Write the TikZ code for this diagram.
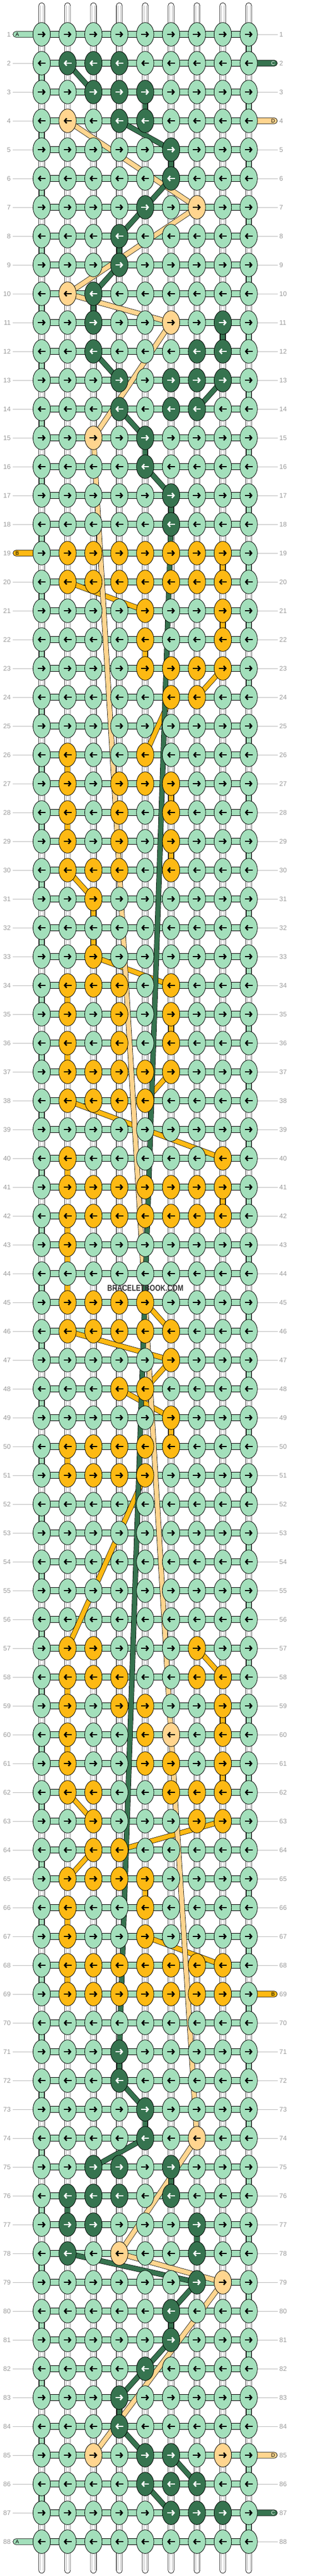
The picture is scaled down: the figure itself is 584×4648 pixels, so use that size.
\documentclass[tikz,border=0pt]{standalone}
\usepackage{fontspec}
\usepackage{graphicx}
\setmainfont{Liberation Sans}
\usetikzlibrary{shapes.geometric,arrows.meta}
\definecolor{cA}{HTML}{A3DFBB}
\definecolor{cB}{HTML}{FDB913}
\definecolor{cC}{HTML}{36734F}
\definecolor{cD}{HTML}{FFD58F}
\definecolor{numgray}{HTML}{999999}
\definecolor{linegray}{HTML}{BBBBBB}
\definecolor{wmark}{HTML}{333333}
\pgfdeclarelayer{back}
\pgfdeclarelayer{bands}
\pgfsetlayers{back,bands,main}
\newcount\kcol
\def\KNOT#1#2#3{%
  \node[knot,fill=c#3] (k-#1-#2) at ({75+46.58*(#2-1)},{62+52*(#1-1)}) {};
  \ifodd#1 \draw[arr#3] ([xshift=-7pt]k-#1-#2.center) -- ([xshift=7pt]k-#1-#2.center);
  \else \draw[arr#3] ([xshift=7pt]k-#1-#2.center) -- ([xshift=-7pt]k-#1-#2.center);\fi}
\def\KR#1#2{\kcol=0 \def\rr{#1}\KRloop#2\relax}
\def\KRloop#1{\ifx#1\relax\else\advance\kcol by 1 \edef\tmp{\noexpand\KNOT{\rr}{\the\kcol}{#1}}\tmp\expandafter\KRloop\fi}
\def\band#1#2#3#4#5{\draw[line width=9.6pt,black] (k-#2-#3.center)--(k-#4-#5.center);\draw[line width=8.2pt,c#1] (k-#2-#3.center)--(k-#4-#5.center);}
\def\lstub#1#2#3{\filldraw[fill=c#2,outl,rounded corners=5.3pt] ([xshift=-51.5pt,yshift=-5.3pt]k-#1-1.center) rectangle ([xshift=-5pt,yshift=5.3pt]k-#1-1.center);
  \node[glabel,text=#3] at ([xshift=-44pt]k-#1-1.center) {#2};}
\def\rstub#1#2#3{\filldraw[fill=c#2,outl,rounded corners=5.3pt] ([xshift=5pt,yshift=-5.3pt]k-#1-9.center) rectangle ([xshift=51.5pt,yshift=5.3pt]k-#1-9.center);
  \node[glabel,text=#3] at ([xshift=44pt]k-#1-9.center) {#2};}
\begin{document}
\begin{tikzpicture}[x=1pt,y=-1pt,
  knot/.style={ellipse,draw=black,line width=0.8pt,minimum width=31.3pt,minimum height=42.7pt,inner sep=0pt},
  arrbase/.style={line width=2.6pt,-{Straight Barb[length=3.8pt,width=9pt]}},
  arrA/.style={arrbase,black},arrB/.style={arrbase,black},arrD/.style={arrbase,black},arrC/.style={arrbase,white},
  num/.style={text=numgray,font=\fontsize{12}{12}\selectfont,inner sep=0pt},
  glabel/.style={font=\fontsize{9.5}{9.5}\selectfont,inner sep=0pt},
  gline/.style={linegray,line width=0.9pt},
  outl/.style={draw=black,line width=0.7pt}]
\useasboundingbox (0,0) rectangle (584,4648);
% knots
\KR{1}{AAAAAAAAA}
\KR{2}{ACCCAAAAA}
\KR{3}{AACCCAAAA}
\KR{4}{ADACCAAAA}
\KR{5}{AAAAACAAA}
\KR{6}{AAAAACAAA}
\KR{7}{AAAACADAA}
\KR{8}{AAACAAAAA}
\KR{9}{AAACAAAAA}
\KR{10}{ADCAAAAAA}
\KR{11}{AACAADACA}
\KR{12}{AACAAACCA}
\KR{13}{AAACACCCA}
\KR{14}{AAACACCAA}
\KR{15}{AADACAAAA}
\KR{16}{AAAACAAAA}
\KR{17}{AAAAACAAA}
\KR{18}{AAAAACAAA}
\KR{19}{ABBBBBBBA}
\KR{20}{ABBBBBBBA}
\KR{21}{AAAABAABA}
\KR{22}{AAAABAABA}
\KR{23}{AAAABBBBA}
\KR{24}{AAAAABBAA}
\KR{25}{AAAAAAAAA}
\KR{26}{ABAABAAAA}
\KR{27}{ABABBBAAA}
\KR{28}{ABABABAAA}
\KR{29}{ABABABAAA}
\KR{30}{ABBBABAAA}
\KR{31}{AABAAAAAA}
\KR{32}{AAAAAAAAA}
\KR{33}{AABAAAAAA}
\KR{34}{ABBBABAAA}
\KR{35}{ABABABAAA}
\KR{36}{ABABABAAA}
\KR{37}{ABBBBBAAA}
\KR{38}{ABBBBAAAA}
\KR{39}{AAAAAAAAA}
\KR{40}{ABAAAAABA}
\KR{41}{ABBBBBBBA}
\KR{42}{ABBBBBBBA}
\KR{43}{ABAAAAAAA}
\KR{44}{AAAAAAAAA}
\KR{45}{ABBBBAAAA}
\KR{46}{ABBBBBAAA}
\KR{47}{AAAAABAAA}
\KR{48}{AAABBAAAA}
\KR{49}{AAAAABAAA}
\KR{50}{ABBBBBAAA}
\KR{51}{ABBBBAAAA}
\KR{52}{AAAAAAAAA}
\KR{53}{AAAAAAAAA}
\KR{54}{AAAAAAAAA}
\KR{55}{AAAAAAAAA}
\KR{56}{AAAAAAAAA}
\KR{57}{ABBAAABAA}
\KR{58}{ABBBAABBA}
\KR{59}{ABABBAABA}
\KR{60}{ABAABDABA}
\KR{61}{ABAABBABA}
\KR{62}{ABBAABBBA}
\KR{63}{AABAAABBA}
\KR{64}{AABBAAAAA}
\KR{65}{ABBBBAAAA}
\KR{66}{ABAABAAAA}
\KR{67}{ABAABAAAA}
\KR{68}{ABBBBBBBA}
\KR{69}{ABBBBBBBA}
\KR{70}{AAAAAAAAA}
\KR{71}{AAACAAAAA}
\KR{72}{AAACAAAAA}
\KR{73}{AAAACAAAA}
\KR{74}{AAAACADAA}
\KR{75}{AACCACAAA}
\KR{76}{ACCCACAAA}
\KR{77}{ACCAAACAA}
\KR{78}{ACADAACAA}
\KR{79}{AAAAAACDA}
\KR{80}{AAAAACAAA}
\KR{81}{AAAAACAAA}
\KR{82}{AAAACAAAA}
\KR{83}{AAACAAAAA}
\KR{84}{AAACAAAAA}
\KR{85}{AADACCADA}
\KR{86}{AAAACCCAA}
\KR{87}{AAAAACCCA}
\KR{88}{AAAAAAAAA}
% background: vertical strands, horizontal bars, wraps, side lines, stubs
\begin{pgfonlayer}{back}
\foreach \c in {1,...,9}{
  \pgfmathsetmacro\X{75+46.58*(\c-1)}
  \filldraw[fill=white,outl,rounded corners=5.3pt] ({\X-5.3},5) rectangle ({\X+5.3},4643);
  \draw[linegray,line width=0.6pt] ({\X-2.4},10) -- ({\X-2.4},4638);
  \draw[linegray,line width=0.6pt] ({\X+2.4},10) -- ({\X+2.4},4638);
}
\foreach \r in {1,...,88}{
  \filldraw[fill=cA,outl] ([yshift=-5.4pt]k-\r-1.center) rectangle ([yshift=5.4pt]k-\r-9.center);
  \draw[gline] ([xshift=-52pt]k-\r-1.center) -- ([xshift=-15pt]k-\r-1.center);
  \draw[gline] ([xshift=15pt]k-\r-9.center) -- ([xshift=52pt]k-\r-9.center);
}
\foreach \r in {1,3,...,87}{
  \pgfmathtruncatemacro\n{\r+1}
  \filldraw[fill=cA,outl] ([xshift=-4.6pt]k-\r-9.center) rectangle ([xshift=4.6pt]k-\n-9.center);
}
\foreach \r in {2,4,...,86}{
  \pgfmathtruncatemacro\n{\r+1}
  \filldraw[fill=cA,outl] ([xshift=-4.6pt]k-\r-1.center) rectangle ([xshift=4.6pt]k-\n-1.center);
}
\lstub{1}{A}{black}
\lstub{19}{B}{black}
\lstub{88}{A}{black}
\rstub{2}{C}{white}
\rstub{4}{D}{black}
\rstub{69}{B}{black}
\rstub{85}{D}{black}
\rstub{87}{C}{white}
\end{pgfonlayer}
% strands that move between knots
\begin{pgfonlayer}{bands}
\band{B}{19}{8}{20}{8}
\band{B}{20}{2}{21}{5}
\band{B}{21}{8}{22}{8}
\band{B}{22}{5}{23}{5}
\band{B}{23}{8}{24}{7}
\band{B}{24}{6}{26}{5}
\band{B}{26}{2}{27}{2}
\band{B}{27}{6}{28}{6}
\band{B}{28}{2}{29}{2}
\band{B}{29}{6}{30}{6}
\band{B}{30}{2}{31}{3}
\band{B}{31}{3}{33}{3}
\band{B}{33}{3}{34}{6}
\band{B}{34}{2}{35}{2}
\band{B}{35}{6}{36}{6}
\band{B}{36}{2}{37}{2}
\band{B}{37}{6}{38}{5}
\band{B}{38}{2}{40}{8}
\band{B}{40}{2}{41}{2}
\band{B}{41}{8}{42}{8}
\band{B}{42}{2}{43}{2}
\band{B}{43}{2}{45}{2}
\band{B}{45}{5}{46}{6}
\band{B}{46}{2}{47}{6}
\band{B}{47}{6}{48}{5}
\band{B}{48}{4}{49}{6}
\band{B}{49}{6}{50}{6}
\band{B}{50}{2}{51}{2}
\band{B}{51}{5}{57}{2}
\band{B}{57}{7}{58}{8}
\band{B}{58}{2}{59}{2}
\band{B}{59}{8}{60}{8}
\band{B}{60}{2}{61}{2}
\band{B}{61}{8}{62}{8}
\band{B}{62}{2}{63}{3}
\band{B}{63}{8}{64}{4}
\band{B}{64}{3}{65}{2}
\band{B}{65}{5}{66}{5}
\band{B}{66}{2}{67}{2}
\band{B}{67}{5}{68}{8}
\band{B}{68}{2}{69}{2}
\band{D}{4}{2}{7}{7}
\band{D}{7}{7}{10}{2}
\band{D}{10}{2}{11}{6}
\band{D}{11}{6}{15}{3}
\band{D}{15}{3}{60}{6}
\band{D}{60}{6}{74}{7}
\band{D}{74}{7}{78}{4}
\band{D}{78}{4}{79}{8}
\band{D}{79}{8}{85}{3}
\band{C}{2}{2}{3}{3}
\band{C}{3}{5}{4}{5}
\band{C}{4}{4}{5}{6}
\band{C}{5}{6}{6}{6}
\band{C}{6}{6}{7}{5}
\band{C}{7}{5}{8}{4}
\band{C}{8}{4}{9}{4}
\band{C}{9}{4}{10}{3}
\band{C}{10}{3}{11}{3}
\band{C}{11}{8}{12}{8}
\band{C}{12}{3}{13}{4}
\band{C}{13}{8}{14}{7}
\band{C}{14}{4}{15}{5}
\band{C}{15}{5}{16}{5}
\band{C}{16}{5}{17}{6}
\band{C}{17}{6}{18}{6}
\band{C}{18}{6}{71}{4}
\band{C}{71}{4}{72}{4}
\band{C}{72}{4}{73}{5}
\band{C}{73}{5}{74}{5}
\band{C}{74}{5}{75}{3}
\band{C}{75}{6}{76}{6}
\band{C}{76}{2}{77}{2}
\band{C}{77}{7}{78}{7}
\band{C}{78}{2}{79}{7}
\band{C}{79}{7}{80}{6}
\band{C}{80}{6}{81}{6}
\band{C}{81}{6}{82}{5}
\band{C}{82}{5}{83}{4}
\band{C}{83}{4}{84}{4}
\band{C}{84}{4}{85}{5}
\band{C}{85}{6}{86}{7}
\band{C}{86}{5}{87}{6}
\end{pgfonlayer}
% row numbers
\foreach \r in {1,...,88}{
  \node[num,anchor=east] at ([xshift=-55.5pt]k-\r-1.center) {\r};
  \node[num,anchor=west] at ([xshift=55pt]k-\r-9.center) {\r};
}
\node[inner sep=0pt,text=wmark] (wm) at (261.7,2323.7) {\resizebox{137pt}{10.7pt}{\bfseries BRACELETBOOK.COM}};
\end{tikzpicture}
\end{document}
